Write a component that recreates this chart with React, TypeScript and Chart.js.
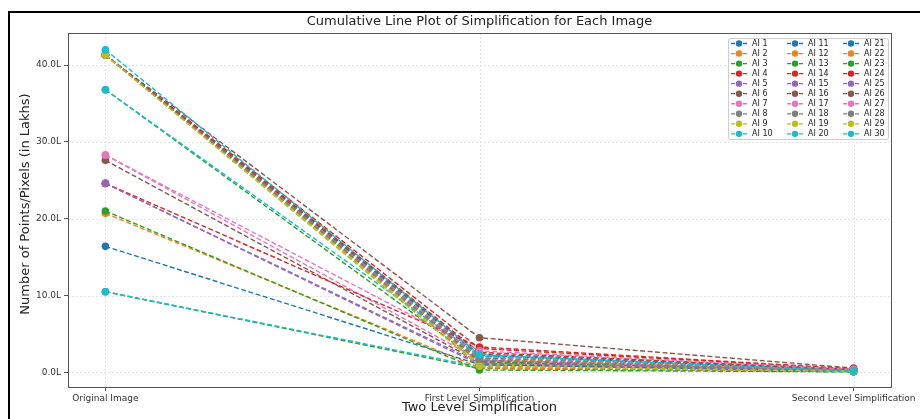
import React, { useEffect, useRef } from 'react';
import { Chart, registerables } from 'chart.js';

Chart.register(...registerables);

const STAGES = ['Original Image', 'First Level Simplification', 'Second Level Simplification'];
const SERIES = [
  'AI 1', 'AI 2', 'AI 3', 'AI 4', 'AI 5', 'AI 6', 'AI 7', 'AI 8', 'AI 9', 'AI 10',
  'AI 11', 'AI 12', 'AI 13', 'AI 14', 'AI 15', 'AI 16', 'AI 17', 'AI 18', 'AI 19', 'AI 20',
  'AI 21', 'AI 22', 'AI 23', 'AI 24', 'AI 25', 'AI 26', 'AI 27', 'AI 28', 'AI 29', 'AI 30',
];
const ORIGINAL = [
  41.3, 41.3, 10.5, 41.3, 41.3, 27.6, 41.3, 41.3, 41.3, 10.5,
  41.3, 20.7, 36.8, 41.3, 24.6, 41.3, 28.3, 41.3, 41.3, 36.8,
  16.4, 41.3, 21.0, 24.6, 24.6, 41.3, 28.3, 41.3, 41.3, 42.0,
];
const FIRST_LEVEL = [
  1.9, 1.4, 0.5, 2.6, 1.5, 1.3, 2.0, 1.8, 0.9, 0.7,
  2.2, 0.6, 1.4, 3.1, 1.0, 4.5, 1.6, 1.2, 1.1, 2.1,
  1.0, 1.7, 0.3, 3.3, 1.2, 2.4, 2.8, 1.6, 0.8, 2.3,
];
const SECOND_LEVEL = [
  0.25, 0.2, 0.08, 0.35, 0.2, 0.18, 0.3, 0.25, 0.12, 0.1,
  0.28, 0.1, 0.2, 0.42, 0.15, 0.55, 0.22, 0.18, 0.15, 0.27,
  0.14, 0.22, 0.06, 0.45, 0.17, 0.35, 0.38, 0.2, 0.12, 0.15,
];
const Y_TICKS = [0, 10, 20, 30, 40];
const COLORS = ['#1f77b4', '#ff7f0e', '#2ca02c', '#d62728', '#9467bd', '#8c564b', '#e377c2', '#7f7f7f', '#bcbd22', '#17becf'];

const TITLE = 'Cumulative Line Plot of Simplification for Each Image';
const X_TITLE = 'Two Level Simplification';
const Y_TITLE = 'Number of Points/Pixels (in Lakhs)';
const FONT = '"DejaVu Sans", sans-serif';

const decorPlugin = {
  id: 'decor',
  beforeDatasetsDraw(chart: any) {
    const { ctx, chartArea: a, scales } = chart;
    ctx.save();
    ctx.strokeStyle = '#dcdcdc';
    ctx.lineWidth = 0.8;
    ctx.setLineDash([2, 2]);
    Y_TICKS.forEach((v) => {
      const y = Math.round(scales.y.getPixelForValue(v)) + 0.5;
      ctx.beginPath();
      ctx.moveTo(a.left, y);
      ctx.lineTo(a.right, y);
      ctx.stroke();
    });
    STAGES.forEach((_, i) => {
      const x = Math.round(scales.x.getPixelForValue(i)) + 0.5;
      ctx.beginPath();
      ctx.moveTo(x, a.top);
      ctx.lineTo(x, a.bottom);
      ctx.stroke();
    });
    ctx.restore();
  },
  afterDraw(chart: any) {
    const { ctx, chartArea: a } = chart;
    ctx.save();
    ctx.strokeStyle = '#555';
    ctx.lineWidth = 1;
    ctx.setLineDash([]);
    ctx.strokeRect(Math.round(a.left) + 0.5, Math.round(a.top) + 0.5, Math.round(a.right - a.left), Math.round(a.bottom - a.top));
    ctx.fillStyle = '#222';
    ctx.textAlign = 'center';
    ctx.textBaseline = 'middle';
    const cx = (a.left + a.right) / 2;
    ctx.font = `13px ${FONT}`;
    ctx.fillText(TITLE, cx, 22);
    ctx.fillText(X_TITLE, cx, 408);
    ctx.save();
    ctx.translate(26, 204);
    ctx.rotate(-Math.PI / 2);
    ctx.fillText(Y_TITLE, 0, 0);
    ctx.restore();

    const bx = 728, by = 38, bw = 160, bh = 101;
    ctx.fillStyle = 'rgba(255,255,255,0.85)';
    ctx.strokeStyle = '#cccccc';
    ctx.lineWidth = 1;
    ctx.beginPath();
    ctx.roundRect(bx + 0.5, by + 0.5, bw, bh, 2);
    ctx.fill();
    ctx.stroke();
    ctx.font = `8px ${FONT}`;
    ctx.textAlign = 'left';
    ctx.textBaseline = 'middle';
    SERIES.forEach((name, i) => {
      const col = Math.floor(i / 10);
      const row = i % 10;
      const lx = 731 + col * 56;
      const ly = 43.5 + row * 10.04;
      const c = COLORS[i % 10];
      ctx.strokeStyle = c;
      ctx.lineWidth = 1.3;
      ctx.setLineDash([4, 2]);
      ctx.beginPath();
      ctx.moveTo(lx, ly);
      ctx.lineTo(lx + 16, ly);
      ctx.stroke();
      ctx.setLineDash([]);
      ctx.fillStyle = c;
      ctx.beginPath();
      ctx.arc(lx + 8, ly, 3.2, 0, Math.PI * 2);
      ctx.fill();
      ctx.fillStyle = '#222';
      ctx.fillText(name, lx + 21, ly + 0.5);
    });
    ctx.restore();
  },
};

export default function App() {
  const ref = useRef<HTMLCanvasElement>(null);
  useEffect(() => {
    if (!ref.current) return;
    const datasets = SERIES.map((name, i) => ({
      label: name,
      data: [ORIGINAL[i], FIRST_LEVEL[i], SECOND_LEVEL[i]].map((v, k) => ({ x: k, y: v })),
      borderColor: COLORS[i % 10],
      backgroundColor: COLORS[i % 10],
      borderWidth: 1.4,
      borderDash: [5, 2.5],
      pointRadius: 3.8,
      pointBorderWidth: 0,
      pointBackgroundColor: COLORS[i % 10],
      tension: 0,
      order: SERIES.length - i,
    }));
    const chart = new Chart(ref.current, {
      type: 'line',
      data: { datasets },
      plugins: [decorPlugin],
      options: {
        responsive: false,
        animation: false,
        devicePixelRatio: 1,
        layout: { padding: { left: 0, top: 33, right: 29, bottom: 0 } },
        plugins: { legend: { display: false }, title: { display: false }, tooltip: { enabled: false } },
        scales: {
          x: {
            type: 'linear',
            min: -0.1,
            max: 2.1,
            afterBuildTicks: (s: any) => { s.ticks = STAGES.map((_, i) => ({ value: i })); },
            afterFit: (s: any) => { s.height = 32; },
            grid: { display: true, color: 'rgba(0,0,0,0)', drawTicks: true, tickLength: 4, tickColor: '#555', tickWidth: 1 },
            border: { display: false },
            ticks: {
              autoSkip: false,
              maxRotation: 0,
              padding: 2,
              color: '#333',
              font: { family: FONT, size: 9 },
              callback: (v: any) => STAGES[Math.round(Number(v))] ?? '',
            },
          },
          y: {
            type: 'linear',
            min: -1.91,
            max: 44.18,
            afterBuildTicks: (s: any) => { s.ticks = Y_TICKS.map((v) => ({ value: v })); },
            afterFit: (s: any) => { s.width = 68; },
            grid: { display: true, color: 'rgba(0,0,0,0)', drawTicks: true, tickLength: 4, tickColor: '#555', tickWidth: 1 },
            border: { display: false },
            ticks: {
              padding: 3,
              color: '#333',
              font: { family: FONT, size: 9 },
              callback: (v: any) => `${Number(v).toFixed(1)}L`,
            },
          },
        },
      },
    });
    return () => chart.destroy();
  }, []);
  return (
    <div style={{ position: 'fixed', left: 0, top: 0, width: 920, height: 419, background: '#fff', overflow: 'hidden' }}>
      <canvas ref={ref} width={920} height={419} style={{ display: 'block' }} />
      <div style={{ position: 'absolute', left: 8, top: 11, width: 912, height: 2, background: '#000' }} />
      <div style={{ position: 'absolute', left: 8, top: 11, width: 2, height: 408, background: '#000' }} />
    </div>
  );
}
